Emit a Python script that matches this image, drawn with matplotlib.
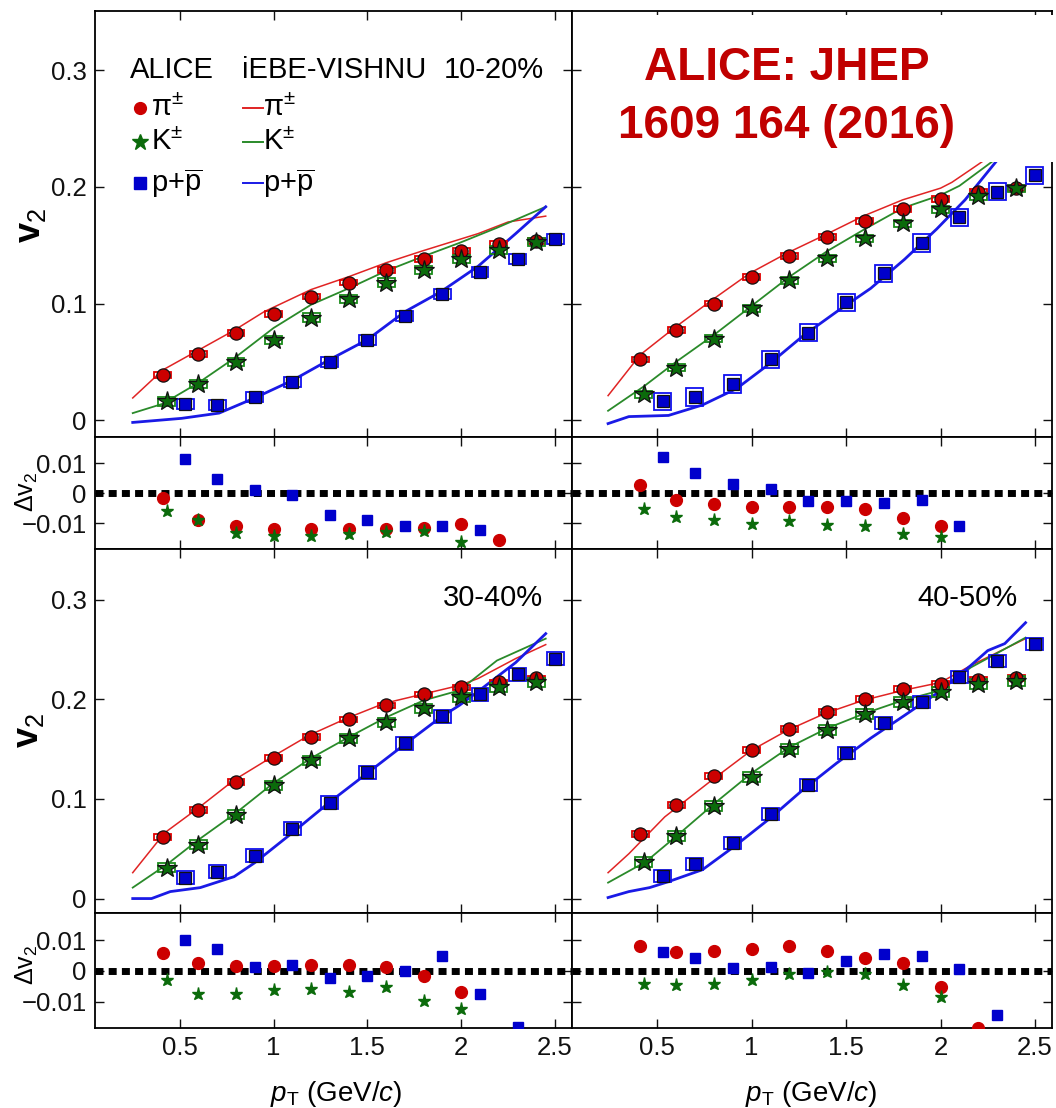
import matplotlib
matplotlib.use('Agg')
import matplotlib.pyplot as plt
from matplotlib.patches import Rectangle

plt.rcParams['font.family'] = ['Liberation Sans Narrow', 'Liberation Sans', 'DejaVu Sans']
plt.rcParams['mathtext.fontset'] = 'custom'
plt.rcParams['mathtext.rm'] = 'Liberation Sans'
plt.rcParams['mathtext.it'] = 'Liberation Sans:italic'
plt.rcParams['mathtext.bf'] = 'Liberation Sans:bold'

# pT bin centres (GeV/c)
pt_pi = [0.41, 0.6, 0.8, 1.0, 1.2, 1.4, 1.6, 1.8, 2.0, 2.2, 2.4]
pt_k = [0.43, 0.6, 0.8, 1.0, 1.2, 1.4, 1.6, 1.8, 2.0, 2.2, 2.4]
pt_p = [0.53, 0.7, 0.9, 1.1, 1.3, 1.5, 1.7, 1.9, 2.1, 2.3, 2.5]

# ALICE v2, 10-20%
v2_pi_1020 = [0.039, 0.057, 0.075, 0.091, 0.106, 0.118, 0.129, 0.138, 0.145, 0.151, 0.154]
v2_k_1020 = [0.016, 0.031, 0.050, 0.069, 0.088, 0.104, 0.118, 0.129, 0.138, 0.146, 0.153]
v2_p_1020 = [0.014, 0.013, 0.020, 0.033, 0.050, 0.069, 0.089, 0.108, 0.127, 0.138, 0.155]
# ALICE v2, 20-30%
v2_pi_2030 = [0.052, 0.077, 0.100, 0.123, 0.141, 0.157, 0.171, 0.181, 0.190, 0.196, 0.199]
v2_k_2030 = [0.022, 0.045, 0.070, 0.096, 0.120, 0.139, 0.156, 0.169, 0.181, 0.192, 0.199]
v2_p_2030 = [0.016, 0.020, 0.031, 0.052, 0.075, 0.101, 0.126, 0.152, 0.174, 0.196, 0.210]
# ALICE v2, 30-40%
v2_pi_3040 = [0.062, 0.089, 0.117, 0.141, 0.162, 0.180, 0.194, 0.205, 0.212, 0.217, 0.221]
v2_k_3040 = [0.031, 0.054, 0.084, 0.114, 0.139, 0.161, 0.177, 0.191, 0.202, 0.212, 0.217]
v2_p_3040 = [0.021, 0.027, 0.043, 0.070, 0.096, 0.127, 0.156, 0.183, 0.205, 0.225, 0.241]
# ALICE v2, 40-50%
v2_pi_4050 = [0.065, 0.094, 0.123, 0.149, 0.170, 0.187, 0.200, 0.210, 0.215, 0.219, 0.221]
v2_k_4050 = [0.037, 0.063, 0.093, 0.122, 0.150, 0.169, 0.185, 0.197, 0.207, 0.215, 0.218]
v2_p_4050 = [0.023, 0.035, 0.056, 0.085, 0.114, 0.146, 0.176, 0.197, 0.222, 0.239, 0.256]

# systematic half-heights (pi, K, p)
sys_1020 = [0.0025, 0.0035, 0.0043]
sys_2030 = [0.0025, 0.0030, 0.0075]
sys_3040 = [0.0028, 0.0045, 0.0065]
sys_4050 = [0.0030, 0.0050, 0.0060]

# iEBE-VISHNU curves
th_pi_1020_pt = [0.25, 0.41, 0.6, 0.79, 0.95, 1.2, 1.4, 1.6, 1.79, 1.99, 2.09, 2.25, 2.45]
th_pi_1020_v2 = [0.019, 0.043, 0.060, 0.077, 0.093, 0.112, 0.123, 0.135, 0.145, 0.155, 0.160, 0.170, 0.175]
th_k_1020_pt = [0.25, 0.41, 0.6, 0.79, 1.0, 1.2, 1.4, 1.6, 1.79, 1.99, 2.19, 2.45]
th_k_1020_v2 = [0.006, 0.014, 0.032, 0.053, 0.079, 0.099, 0.113, 0.128, 0.140, 0.152, 0.165, 0.183]
th_p_1020_pt = [0.25, 0.51, 0.71, 0.9, 1.1, 1.3, 1.5, 1.7, 1.89, 2.09, 2.29, 2.45]
th_p_1020_v2 = [-0.002, 0.0015, 0.006, 0.019, 0.034, 0.052, 0.069, 0.093, 0.110, 0.132, 0.160, 0.183]

th_pi_2030_pt = [0.24, 0.41, 0.59, 0.79, 0.99, 1.19, 1.39, 1.59, 1.8, 2.0, 2.06, 2.16, 2.25, 2.45]
th_pi_2030_v2 = [0.021, 0.056, 0.079, 0.103, 0.126, 0.1435, 0.159, 0.175, 0.189, 0.199, 0.204, 0.215, 0.225, 0.245]
th_k_2030_pt = [0.24, 0.43, 0.6, 0.8, 1.0, 1.2, 1.4, 1.6, 1.8, 2.0, 2.1, 2.3, 2.45]
th_k_2030_v2 = [0.008, 0.029, 0.050, 0.073, 0.098, 0.123, 0.145, 0.164, 0.182, 0.193, 0.201, 0.225, 0.240]
th_p_2030_pt = [0.24, 0.35, 0.56, 0.74, 0.92, 1.1, 1.27, 1.45, 1.63, 1.81, 1.98, 2.13, 2.3, 2.45]
th_p_2030_v2 = [-0.003, 0.003, 0.004, 0.013, 0.027, 0.049, 0.072, 0.093, 0.113, 0.138, 0.164, 0.189, 0.223, 0.250]

th_pi_3040_pt = [0.25, 0.42, 0.6, 0.79, 0.99, 1.19, 1.39, 1.59, 1.79, 1.99, 2.09, 2.29, 2.45]
th_pi_3040_v2 = [0.026, 0.066, 0.091, 0.119, 0.142, 0.164, 0.181, 0.196, 0.205, 0.214, 0.221, 0.241, 0.255]
th_k_3040_pt = [0.25, 0.43, 0.6, 0.8, 1.0, 1.2, 1.4, 1.6, 1.8, 1.99, 2.19, 2.45]
th_k_3040_v2 = [0.011, 0.034, 0.059, 0.086, 0.116, 0.141, 0.162, 0.182, 0.199, 0.209, 0.239, 0.261]
th_p_3040_pt = [0.25, 0.35, 0.45, 0.61, 0.79, 0.9, 1.1, 1.3, 1.5, 1.7, 1.89, 1.99, 2.09, 2.29, 2.45]
th_p_3040_v2 = [0.0, 0.0, 0.007, 0.011, 0.022, 0.036, 0.066, 0.097, 0.126, 0.155, 0.182, 0.194, 0.208, 0.237, 0.266]

th_pi_4050_pt = [0.24, 0.35, 0.54, 0.79, 1.0, 1.19, 1.39, 1.59, 1.8, 2.0, 2.16, 2.45]
th_pi_4050_v2 = [0.026, 0.045, 0.082, 0.119, 0.149, 0.169, 0.186, 0.199, 0.209, 0.217, 0.234, 0.261]
th_k_4050_pt = [0.24, 0.44, 0.61, 0.8, 1.0, 1.2, 1.4, 1.6, 1.8, 2.0, 2.16, 2.45]
th_k_4050_v2 = [0.016, 0.037, 0.064, 0.095, 0.126, 0.152, 0.171, 0.186, 0.199, 0.209, 0.232, 0.262]
th_p_4050_pt = [0.24, 0.35, 0.46, 0.56, 0.74, 0.92, 1.1, 1.27, 1.45, 1.63, 1.81, 1.98, 2.16, 2.25, 2.34, 2.45]
th_p_4050_v2 = [0.001, 0.007, 0.011, 0.017, 0.029, 0.054, 0.081, 0.109, 0.136, 0.161, 0.184, 0.206, 0.234, 0.249, 0.256, 0.277]

# data - model differences
dv_pi_1020 = [-0.0016, -0.0090, -0.0110, -0.0120, -0.0118, -0.0118, -0.0118, -0.0115, -0.0101, -0.0156]
dv_k_1020 = [-0.0057, -0.0090, -0.0131, -0.0142, -0.0142, -0.0134, -0.0129, -0.0126, -0.0162]
dv_p_1020 = [0.0116, 0.0049, 0.0011, -0.0004, -0.0071, -0.0090, -0.0109, -0.0109, -0.0123]

dv_pi_2030 = [0.0027, -0.0021, -0.0035, -0.0044, -0.0044, -0.0044, -0.0052, -0.0082, -0.0110]
dv_k_2030 = [-0.0052, -0.0079, -0.0090, -0.0101, -0.0093, -0.0104, -0.0107, -0.0134, -0.0145]
dv_p_2030 = [0.0122, 0.0069, 0.0031, 0.0016, -0.0024, -0.0024, -0.0032, -0.0021, -0.0107]

dv_pi_3040 = [0.0057, 0.0025, 0.0016, 0.0016, 0.0020, 0.0020, 0.0013, -0.0016, -0.0069]
dv_k_3040 = [-0.0030, -0.0074, -0.0074, -0.0063, -0.0058, -0.0069, -0.0052, -0.0099, -0.0124]
dv_p_3040 = [0.0101, 0.0071, 0.0014, 0.0020, -0.0022, -0.0016, 0.0000, 0.0049, -0.0074, -0.0181]

dv_pi_4050 = [0.0080, 0.0061, 0.0064, 0.0072, 0.0080, 0.0064, 0.0041, 0.0025, -0.0053, -0.0185]
dv_k_4050 = [-0.0041, -0.0044, -0.0041, -0.0028, -0.0010, -0.0003, -0.0010, -0.0044, -0.0085]
dv_p_4050 = [0.0061, 0.0042, 0.0008, 0.0014, -0.0006, 0.0033, 0.0055, 0.0047, 0.0006, -0.0143]

x_ticks = [0.5, 1.0, 1.5, 2.0, 2.5]
x_tick_labels = ['0.5', '1', '1.5', '2', '2.5']
v2_ticks = [0.0, 0.1, 0.2, 0.3]
v2_tick_labels = ['0', '0.1', '0.2', '0.3']
dv_ticks = [-0.01, 0.0, 0.01]
dv_tick_labels = ['\u22120.01', '0', '0.01']

RED, GREEN, BLUE = '#cc0000', '#0b6b0b', '#0000cc'
LINE_RED, LINE_GREEN, LINE_BLUE = '#e02424', '#2a8a2a', '#1a1ae6'

W, H = 1056, 1108
fig = plt.figure(figsize=(W / 100, H / 100), dpi=100)


def panel_axes(x0, y0, x1, y1):
    return fig.add_axes([x0 / W, 1 - y1 / H, (x1 - x0) / W, (y1 - y0) / H])


def style_axes(ax, ticks, labels, show_x, show_y):
    ax.set_xlim(0.049, 2.59)
    ax.set_xticks(x_ticks)
    ax.set_xticklabels(x_tick_labels)
    ax.set_yticks(ticks)
    ax.set_yticklabels(labels)
    ax.tick_params(direction='in', length=6.5, width=1.0, top=True, right=True,
                   labelsize=18.5, pad=6, colors='#111111')
    ax.tick_params(labelbottom=show_x, labelleft=show_y)
    for s in ax.spines.values():
        s.set_linewidth(1.3)


def draw_species(ax, pt, v2, face, box_color, marker, ms, half_h):
    for x, y in zip(pt, v2):
        ax.add_patch(Rectangle((x - 0.045, y - half_h), 0.09, 2 * half_h, fill=False,
                               ec=box_color, lw=1.3, zorder=3))
    ax.plot(pt, v2, ls='none', marker=marker, ms=ms, mfc=face, mec='#111111', mew=0.9, zorder=4)


def draw_main(ax, v2_pi, v2_k, v2_p, sys, curves):
    for (cpt, cv2), color, lw in zip(curves, [LINE_RED, LINE_GREEN, LINE_BLUE], [1.1, 1.3, 2.0]):
        ax.plot(cpt, cv2, color=color, lw=lw, zorder=2)
    draw_species(ax, pt_pi, v2_pi, RED, '#e00000', 'o', 9.5, sys[0])
    draw_species(ax, pt_k, v2_k, GREEN, '#1a8a1a', '*', 15, sys[1])
    draw_species(ax, pt_p, v2_p, BLUE, '#1010f0', 's', 9, sys[2])
    ax.set_ylim(-0.0145, 0.351)


def draw_ratio(ax, dv_pi, dv_k, dv_p):
    ax.axhline(0, color='k', lw=5, ls=(0, (1.15, 0.75)), dash_capstyle='butt', zorder=2)
    ax.plot(pt_pi[:len(dv_pi)], dv_pi, ls='none', marker='o', ms=8.5, color=RED, mec=RED, zorder=3)
    ax.plot(pt_k[:len(dv_k)], dv_k, ls='none', marker='*', ms=9.5, color=GREEN, mec=GREEN, zorder=3)
    ax.plot(pt_p[:len(dv_p)], dv_p, ls='none', marker='s', ms=7.5, color=BLUE, mec=BLUE, zorder=3)
    ax.set_ylim(-0.0185, 0.0188)


# four centrality columns: top row 10-20% / 20-30%, bottom row 30-40% / 40-50%
cols = [(95, 572), (572, 1052)]
rows = [((11, 437), (437, 549)), ((549, 913), (913, 1028))]

panels = [
    (v2_pi_1020, v2_k_1020, v2_p_1020, sys_1020,
     [(th_pi_1020_pt, th_pi_1020_v2), (th_k_1020_pt, th_k_1020_v2), (th_p_1020_pt, th_p_1020_v2)],
     dv_pi_1020, dv_k_1020, dv_p_1020, '10-20%'),
    (v2_pi_2030, v2_k_2030, v2_p_2030, sys_2030,
     [(th_pi_2030_pt, th_pi_2030_v2), (th_k_2030_pt, th_k_2030_v2), (th_p_2030_pt, th_p_2030_v2)],
     dv_pi_2030, dv_k_2030, dv_p_2030, None),
    (v2_pi_3040, v2_k_3040, v2_p_3040, sys_3040,
     [(th_pi_3040_pt, th_pi_3040_v2), (th_k_3040_pt, th_k_3040_v2), (th_p_3040_pt, th_p_3040_v2)],
     dv_pi_3040, dv_k_3040, dv_p_3040, '30-40%'),
    (v2_pi_4050, v2_k_4050, v2_p_4050, sys_4050,
     [(th_pi_4050_pt, th_pi_4050_v2), (th_k_4050_pt, th_k_4050_v2), (th_p_4050_pt, th_p_4050_v2)],
     dv_pi_4050, dv_k_4050, dv_p_4050, '40-50%'),
]

main_axes = []
for i, (vpi, vk, vp, sys, curves, dpi_, dk, dp, label) in enumerate(panels):
    r, c = divmod(i, 2)
    (m0, m1), (q0, q1) = rows[r]
    x0, x1 = cols[c]
    ax = panel_axes(x0, m0, x1, m1)
    draw_main(ax, vpi, vk, vp, sys, curves)
    style_axes(ax, v2_ticks, v2_tick_labels, False, c == 0)
    main_axes.append(ax)
    if label == '10-20%':
        ax.text(0.94, 0.843, label, transform=ax.transAxes, ha='right', va='baseline', fontsize=21)
    elif label:
        ax.text(0.94 if c == 0 else 0.929, 0.866, label, transform=ax.transAxes,
                ha='right', va='center', fontsize=21)

    rax = panel_axes(x0, q0, x1, q1)
    draw_ratio(rax, dpi_, dk, dp)
    style_axes(rax, dv_ticks, dv_tick_labels, r == 1, c == 0)

# legend block in the 10-20% panel
ax = main_axes[0]
ax.text(0.073, 0.843, 'ALICE', transform=ax.transAxes, va='baseline', fontsize=21)
ax.text(0.308, 0.843, 'iEBE-VISHNU', transform=ax.transAxes, va='baseline', fontsize=21)
legend_rows = [(0.772, RED, LINE_RED, 'o', 8.5, '\u03c0$^{\\pm}$'),
               (0.692, GREEN, LINE_GREEN, '*', 12, 'K$^{\\pm}$'),
               (0.596, BLUE, LINE_BLUE, 's', 8.5, r'p+$\overline{\mathrm{p}}$')]
for y, color, lcolor, marker, ms, name in legend_rows:
    ax.plot([0.094], [y], transform=ax.transAxes, marker=marker, ms=ms, color=color, ls='none')
    ax.text(0.118, y, name, transform=ax.transAxes, va='center', fontsize=21)
    ax.plot([0.31, 0.353], [y, y], transform=ax.transAxes, color=lcolor, lw=1.4)
    ax.text(0.353, y, name, transform=ax.transAxes, va='center', fontsize=21)

# axis titles
fig.text(30 / W, 1 - 225 / H, r'$\mathbf{v}_2$', rotation=90, ha='center', va='center', fontsize=26)
fig.text(29 / W, 1 - 730 / H, r'$\mathbf{v}_2$', rotation=90, ha='center', va='center', fontsize=26)
fig.text(27 / W, 1 - 492 / H, r'$\Delta$v$_2$', rotation=90, ha='center', va='center', fontsize=18)
fig.text(27 / W, 1 - 965 / H, r'$\Delta$v$_2$', rotation=90, ha='center', va='center', fontsize=18)
fig.text(336 / W, 1 - 1094 / H, r'$p_{\mathrm{T}}$ (GeV/$c$)', ha='center', va='center', fontsize=20)
fig.text(811 / W, 1 - 1094 / H, r'$p_{\mathrm{T}}$ (GeV/$c$)', ha='center', va='center', fontsize=20)

# reference note over the upper right panel
fig.add_artist(Rectangle((592 / W, 1 - 162 / H), (1056 - 592) / W, (162 - 15) / H,
                         transform=fig.transFigure, fc='white', ec='none', zorder=5))
fig.text(787 / W, 1 - 80 / H, 'ALICE: JHEP', ha='center', va='baseline', fontsize=33,
         fontweight='bold', color='#c00000', family='Liberation Sans', zorder=6)
fig.text(787 / W, 1 - 138 / H, '1609 164 (2016)', ha='center', va='baseline', fontsize=33,
         fontweight='bold', color='#c00000', family='Liberation Sans', zorder=6)

fig.savefig('out.png', dpi=100)
